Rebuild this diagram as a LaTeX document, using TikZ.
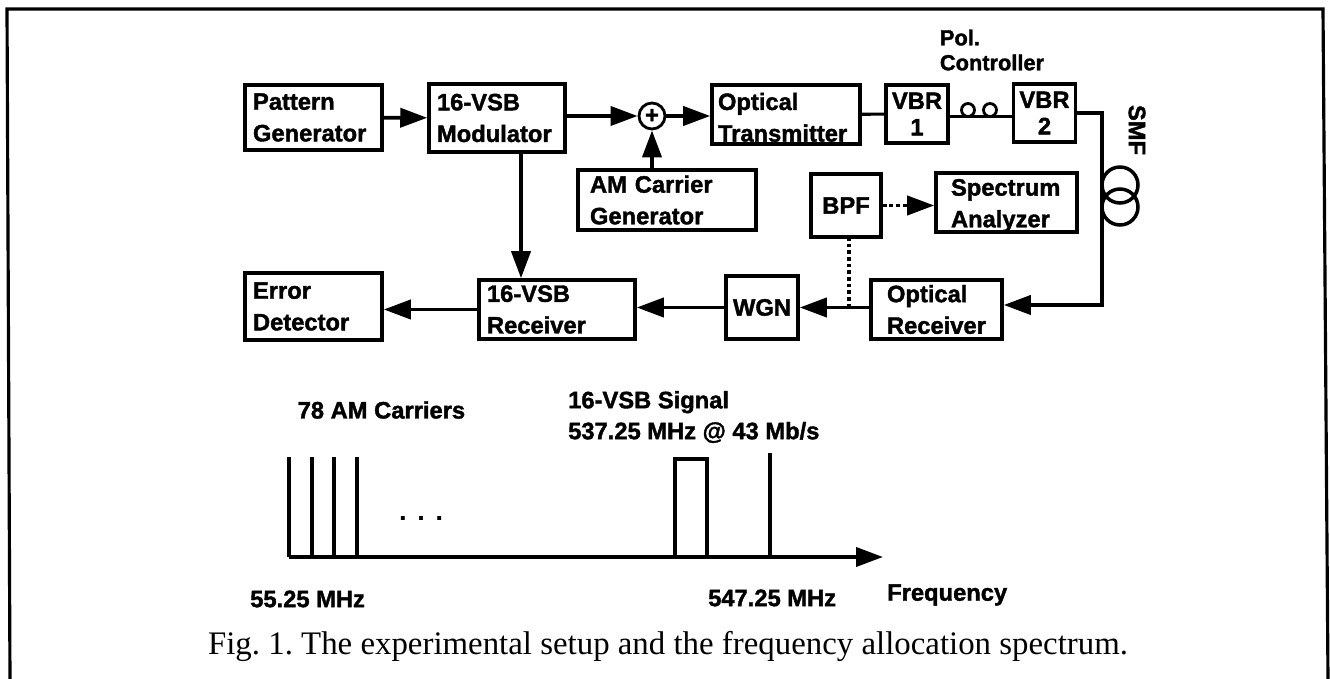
\documentclass[tikz,border=0pt]{standalone}
\usepackage{fontspec}
\setmainfont{Liberation Sans}[BoldFeatures={FakeBold=1.6}]
\newfontfamily\capfont{Liberation Serif}
\usetikzlibrary{arrows.meta,positioning,calc}

\begin{document}
\begin{tikzpicture}[
  font=\fontsize{13.5}{18}\selectfont\bfseries,
  block/.style={draw,line width=2pt,align=left,inner xsep=.16cm,inner ysep=0pt},
  vbr/.style={block,align=center,inner xsep=0pt,text width=1.24cm,minimum height=1.16cm,
    font=\fontsize{13.5}{15}\selectfont\bfseries},
  loopc/.style={draw,circle,line width=1.6pt,inner sep=0pt,minimum size=.26cm},
  coil/.style={draw,circle,line width=2pt,inner sep=0pt,minimum size=.72cm},
  flow/.style={-{Triangle[length=.54cm,width=.38cm]},line width=2.2pt},
  link/.style={line width=1.8pt},
  tap/.style={dash pattern=on 2.2pt off 1.6pt,line width=2.2pt},
  bar/.style={line width=1.9pt},
  frameline/.style={line width=1.8pt}
]
  \useasboundingbox (0,0) rectangle (26.6,-13.58);

  % open frame, runs off the bottom of the page
  \coordinate (fnw) at (.14,-.18);
  \coordinate (fne) at (26.46,-.18);
  \coordinate (fsw) at (.2,-13.58);
  \coordinate (fse) at (26.56,-13.58);
  \draw[frameline] (fsw) -- (fnw) -- (fne) -- (fse);

  % top row
  \node[block,text width=2.42cm,minimum height=1.3cm] (pattern) at (6.27,-2.35) {Pattern\\Generator};
  \node[block,text width=2.4cm,minimum height=1.36cm] (mod) at (9.94,-2.36) {16-VSB\\Modulator};
  \node[draw,circle,line width=1.6pt,inner sep=0pt,minimum size=.52cm] (sum) at (13.04,-2.32) {+};
  \node[block,inner xsep=.24cm,text width=3.08cm,minimum height=1.2cm] (carrier) at (13.34,-4.0) {AM Carrier\\Generator};
  \node[block,inner xsep=.12cm,text width=2.72cm,minimum height=1.18cm] (tx) at (15.72,-2.29) {\rule{0pt}{13pt}Optical\\Transmitter};
  \node[vbr] (vbra) at (18.34,-2.28) {VBR\\1};
  \node[vbr] (vbrb) at (20.89,-2.26) {VBR\\2};
  \node[loopc] (loopa) at (19.36,-2.2) {};
  \node[loopc] (loopb) at (19.8,-2.2) {};
  \node[align=left,font=\fontsize{12.4}{14.2}\selectfont\bfseries] (pol) at (19.84,-1.0) {Pol.\\Controller};
  \node[rotate=-90] (smf) at (22.74,-2.6) {SMF};

  % middle row
  \node[block,align=center,text width=1.4cm,inner xsep=0pt,minimum height=1.26cm] (bpf) at (16.92,-4.11) {BPF};
  \node[block,inner xsep=.3cm,text width=2.22cm,minimum height=1.14cm] (spec) at (20.13,-4.05) {\rule{0pt}{13pt}Spectrum\\Analyzer};
  \node[coil] (coila) at (22.4,-3.7) {};
  \node[coil] (coilb) at (22.4,-4.14) {};

  % bottom row
  \node[block,inner xsep=.32cm,text width=1.98cm,minimum height=1.18cm] (rx) at (18.73,-6.19) {Optical\\Receiver};
  \node[block,align=center,text width=1.44cm,inner xsep=0pt,minimum height=1.26cm] (wgn) at (15.24,-6.15) {WGN};
  \node[block,text width=2.8cm,minimum height=1.18cm] (vsbrx) at (11.14,-6.19) {16-VSB\\Receiver};
  \node[block,text width=2.42cm,minimum height=1.34cm] (error) at (6.27,-6.13) {Error\\Detector};

  \draw[flow] (pattern) -- (mod);
  \draw[flow] (mod.east |- sum) -- (sum);
  \draw[flow] (sum) -- (tx.west |- sum);
  \draw[flow] (carrier.north -| sum) -- (sum);
  \draw[link] (tx) -- (vbra);
  \draw[link] ([yshift=-1.5pt]vbra.east) -- ([yshift=-1.5pt]vbra.east -| vbrb.west);
  \draw[flow] ([xshift=.48cm]mod.south) -- ([xshift=.48cm]mod.south |- vsbrx.north);

  % fibre span from the second VBR round to the receiver
  \coordinate (fibre) at (22.04,-6.1);
  \draw[flow] (vbrb.east) -| (fibre) -- (fibre -| rx.east);

  \draw[flow] (rx.west |- wgn.east) -- (wgn.east);
  \draw[flow] (wgn.west) -- (wgn.west -| vsbrx.east);
  \draw[flow] (vsbrx.west) -- (vsbrx.west -| error.east);

  \coordinate (tapjoin) at ($(bpf.south |- wgn.east)+(.06,0)$);
  \draw[tap] (tapjoin) -- (tapjoin |- bpf.south);
  \draw[tap,-{Triangle[length=.54cm,width=.38cm]}] (bpf) -- (spec.west |- bpf);

  % spectrum
  \coordinate (axisstart) at (5.78,-11.14);
  \coordinate (axisend) at (17.66,-11.14);
  \foreach \x in {5.78,6.24,6.68,7.14}
    \draw[bar] (\x,-11.14) -- (\x,-9.14);
  \draw[bar] (13.5,-11.14) -- (13.5,-9.18) -- (14.14,-9.18) -- (14.14,-11.14);
  \draw[line width=2.4pt] (13.5,-9.18) -- (14.14,-9.18);
  \draw[bar] (15.4,-11.14) -- (15.4,-9.06);
  \draw[flow] (axisstart) -- (axisend);

  \node[anchor=west] (carriers) at (5.83,-8.2) {78 AM Carriers};
  \node[anchor=west,align=left,font=\fontsize{13.5}{17.6}\selectfont\bfseries] (signal) at (11.24,-8.34) {16-VSB Signal\\537.25 MHz @ 43 Mb/s};
  \node (dots) at (8.42,-10.36) {.\hspace{.234cm}.\hspace{.234cm}.};
  \node[anchor=west] (flow) at (4.88,-11.98) {55.25 MHz};
  \node[anchor=west] (fhigh) at (14.04,-11.96) {547.25 MHz};
  \node[anchor=west] (freq) at (17.62,-11.9) {Frequency};

  \node[anchor=center,font=\fontsize{18.7}{20}\selectfont\capfont\mdseries\frenchspacing] (caption) at (13.36,-12.92)
    {Fig. 1. The experimental setup and the frequency allocation spectrum.};
\end{tikzpicture}
\end{document}
